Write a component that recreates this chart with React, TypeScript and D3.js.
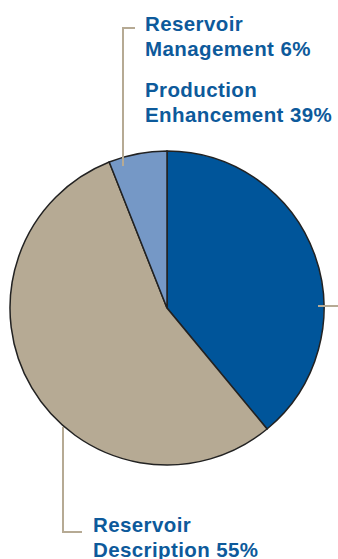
import React from "react";
import * as d3 from "d3";

const categories = ["Production Enhancement", "Reservoir Description", "Reservoir Management"];
const values = [39, 55, 6];
const colors = ["#00559a", "#b6aa94", "#7598c6"];

const W = 338, H = 559;
const cx = 167, cy = 308, R = 157;

export default function App() {
  const pie = d3.pie<number>().sort(null).value((d) => d)(values);
  const arc = d3.arc<d3.PieArcDatum<number>>().innerRadius(0).outerRadius(R);
  const textColor = "#0d5a9b";
  const lineColor = "#b6aa94";
  const fs = 20.5;
  const tStyle: React.CSSProperties = { fontFamily: "Liberation Sans, Arial, sans-serif", fontWeight: "bold", fontSize: fs, letterSpacing: 0.4, fill: textColor };
  return (
    <svg width={W} height={H} style={{ position: "absolute", left: 0, top: 0 }}>
      <g transform={`translate(${cx},${cy})`}>
        {pie.map((p, i) => (
          <path key={categories[i]} d={arc(p) || ""} fill={colors[i]} stroke="#222" strokeWidth={1.5} />
        ))}
      </g>
      {/* leader lines */}
      <polyline points="135,28 123,28 123,166" fill="none" stroke={lineColor} strokeWidth={2} />
      <polyline points="63,427 63,532 82,532" fill="none" stroke={lineColor} strokeWidth={2} />
      <line x1={318} y1={306} x2={338} y2={306} stroke={lineColor} strokeWidth={2} />
      <text style={tStyle} x={145} y={31}>
        <tspan x={145}>Reservoir</tspan>
        <tspan x={145} dy={25}>{`Management ${values[2]}%`}</tspan>
      </text>
      <text style={tStyle} x={145} y={97}>
        <tspan x={145}>Production</tspan>
        <tspan x={145} dy={25}>{`Enhancement ${values[0]}%`}</tspan>
      </text>
      <text style={tStyle} x={93} y={532}>
        <tspan x={93}>Reservoir</tspan>
        <tspan x={93} dy={25}>{`Description ${values[1]}%`}</tspan>
      </text>
    </svg>
  );
}
